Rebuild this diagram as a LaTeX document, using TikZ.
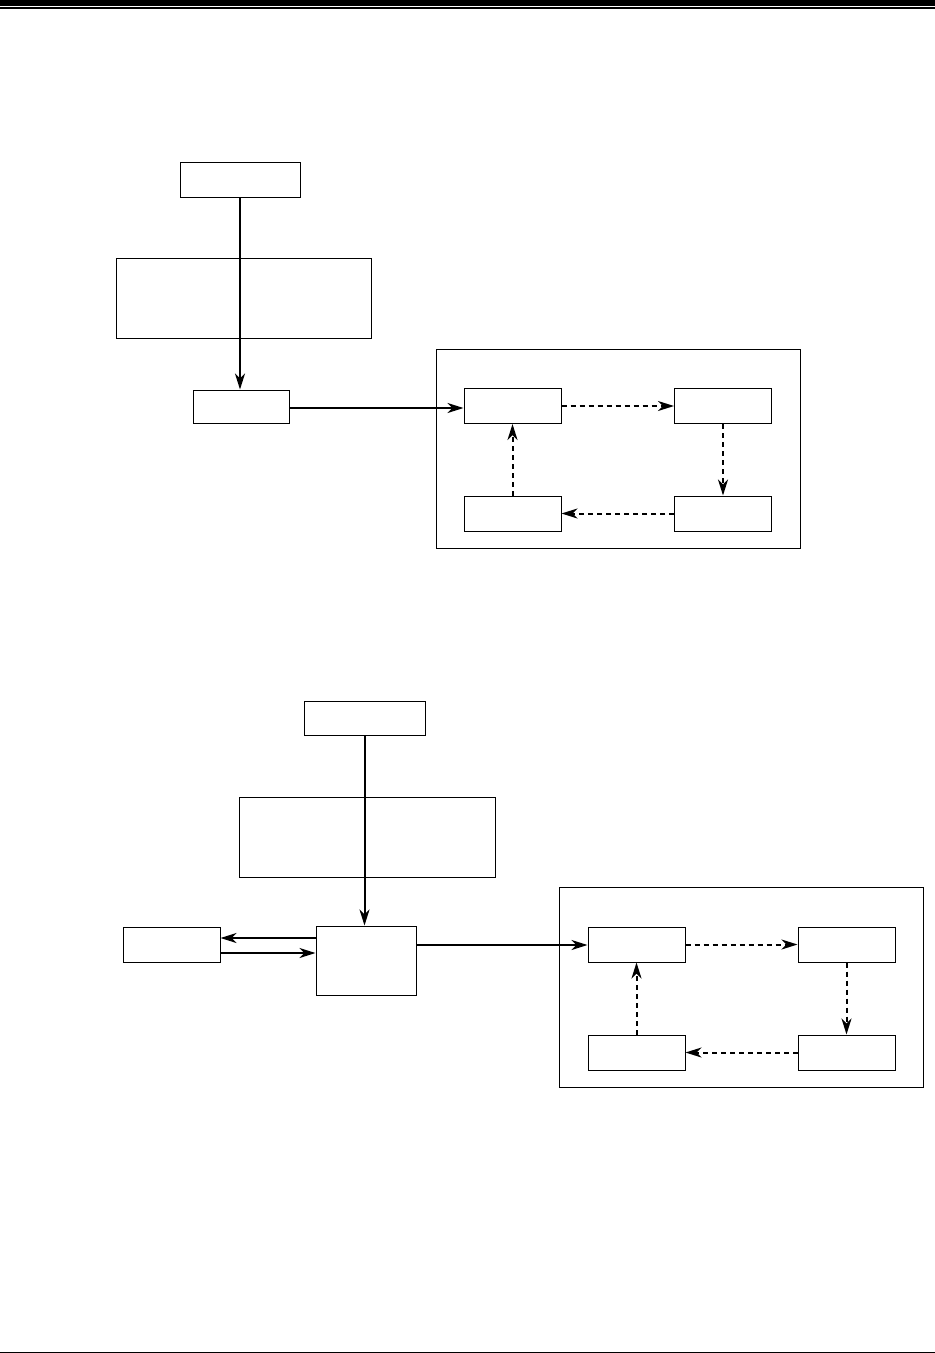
\documentclass[tikz,border=0pt]{standalone}
\usetikzlibrary{arrows.meta}
\begin{document}
\begin{tikzpicture}[x=1pt,y=-1pt,
  box/.style={draw,line width=1pt},
  frame/.style={draw,line width=1pt},
  headtip/.style={-{Stealth[length=16pt,width=10pt,inset=5pt]}},
  solidarrow/.style={line width=2pt,headtip},
  dasharrow/.style={line width=2pt,dash pattern=on 5pt off 4pt,headtip}]
\useasboundingbox (0,0) rectangle (935,1353);
% header and footer rules
\fill (0,0) rectangle (935,6);
\draw[line width=1.3pt] (0,8) -- (935,8);
\draw[line width=1.3pt] (0,1352.2) -- (935,1352.2);
% ---------- top diagram ----------
\node[box,minimum width=120pt,minimum height=35pt] (a1) at (240,179.5) {};
\node[box,minimum width=255pt,minimum height=80pt] (b1) at (243.5,298) {};
\node[box,minimum width=96pt,minimum height=33pt] (c1) at (241,406.5) {};
\node[frame,minimum width=364pt,minimum height=199pt] (f1) at (618,448.5) {};
\node[box,minimum width=97pt,minimum height=35pt] (d11) at (512.5,406) {};
\node[box,minimum width=97pt,minimum height=35pt] (d12) at (723,406) {};
\node[box,minimum width=97pt,minimum height=35pt] (d13) at (723,513.5) {};
\node[box,minimum width=97pt,minimum height=35pt] (d14) at (512.5,513.5) {};
\draw[solidarrow] (a1.south) -- (a1.south |- c1.north);
\draw[solidarrow] (c1.east |- 0,408) -- (d11.west |- 0,408);
\draw[dasharrow] (d11.east) -- (d12.west);
\draw[dasharrow] (d12.south) -- (d13.north);
\draw[dasharrow] (d13.west) -- (d14.east);
\draw[dasharrow] (d14.north) -- (d11.south);
% ---------- bottom diagram ----------
\node[box,minimum width=121pt,minimum height=34pt] (a2) at (364.5,718) {};
\node[box,minimum width=256pt,minimum height=80pt] (b2) at (367,837) {};
\node[box,minimum width=100pt,minimum height=69pt] (c2) at (366,960.5) {};
\node[box,minimum width=97pt,minimum height=35pt] (e2) at (171.5,944.5) {};
\node[frame,minimum width=364pt,minimum height=200pt] (f2) at (741,987) {};
\node[box,minimum width=97pt,minimum height=35pt] (d21) at (636.5,944.5) {};
\node[box,minimum width=97pt,minimum height=35pt] (d22) at (846.5,944.5) {};
\node[box,minimum width=97pt,minimum height=35pt] (d23) at (846.5,1052.5) {};
\node[box,minimum width=97pt,minimum height=35pt] (d24) at (636.5,1052.5) {};
\draw[solidarrow] (a2.south) -- (a2.south |- c2.north);
\draw[solidarrow] (c2.west |- 0,938) -- (e2.east |- 0,938);
\draw[solidarrow] (e2.east |- 0,953) -- (c2.west |- 0,953);
\draw[solidarrow] (c2.east |- 0,945) -- (d21.west |- 0,945);
\draw[dasharrow] (d21.east) -- (d22.west);
\draw[dasharrow] (d22.south) -- (d23.north);
\draw[dasharrow] (d23.west) -- (d24.east);
\draw[dasharrow] (d24.north) -- (d21.south);
\end{tikzpicture}
\end{document}
